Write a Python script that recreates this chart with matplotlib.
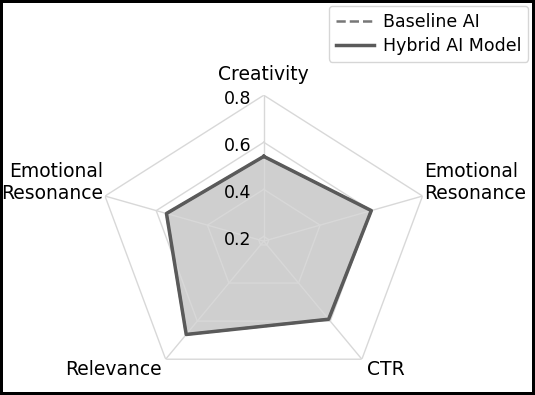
import numpy as np
import matplotlib
matplotlib.use('Agg')
import matplotlib.pyplot as plt

CATEGORIES = ['Creativity', 'Emotional\nResonance', 'CTR', 'Relevance', 'Emotional\nResonance']
BASELINE_AI = [0.54, 0.60, 0.59, 0.67, 0.56]
HYBRID_AI = [0.54, 0.60, 0.59, 0.67, 0.56]
R_TICKS = [0.2, 0.4, 0.6, 0.8]
R_LIMITS = (0.18, 0.8)

GRID_COLOR = '#d8d8d8'
LINE_COLOR = '#5a5a5a'
DASH_COLOR = '#777777'
FILL_COLOR = '#878787'
FONT_SIZE = 13.5
TICK_SIZE = 12.5
LEGEND_SIZE = 12.5

# (ha, va, dx, dy) in points, one entry per category label
LABEL_STYLE = [
    ('center', 'bottom', 0, 8),
    ('left', 'center', 1.5, 9.5),
    ('left', 'top', 4, -0.5),
    ('right', 'top', -3, -0.5),
    ('right', 'center', -1.5, 9.5),
]


def close_loop(values: list) -> list:
    """Repeat the first point so the polygon closes."""
    return list(values) + [values[0]]


def plot_radar(categories: list, baseline: list, hybrid: list) -> None:
    """Plots a radar chart with a pentagon grid."""
    fig = plt.figure(figsize=(5.35, 3.95), dpi=100)
    fig.patch.set_edgecolor('black')
    fig.patch.set_linewidth(3)

    ax = fig.add_axes([0.181, 0.020, 0.624, 0.739], projection='polar')
    ax.set_aspect('auto')
    ax.set_theta_zero_location('N')
    ax.set_theta_direction(-1)

    angles = np.linspace(0, 2 * np.pi, len(categories), endpoint=False)
    theta = close_loop(list(angles))

    ax.set_ylim(*R_LIMITS)
    ax.spines['polar'].set_visible(False)
    ax.set_xticks(angles)
    ax.set_xticklabels([])
    ax.set_yticks(R_TICKS)
    ax.set_yticklabels([])
    ax.tick_params(length=0)
    ax.yaxis.grid(False)
    ax.xaxis.grid(True, color=GRID_COLOR, linewidth=1)

    # pentagon rings, drawn over the fill like the spokes
    for r in R_TICKS:
        ax.plot(theta, [r] * len(theta), color=GRID_COLOR, linewidth=1, zorder=1.5)

    ax.fill(theta, close_loop(hybrid), color=FILL_COLOR, alpha=0.4, linewidth=0)
    ax.plot(theta, close_loop(baseline), color=DASH_COLOR, linestyle='--',
            linewidth=1.8, label='Baseline AI')
    ax.plot(theta, close_loop(hybrid), color=LINE_COLOR, linewidth=2.5,
            label='Hybrid AI Model')

    for angle, label, (ha, va, dx, dy) in zip(angles, categories, LABEL_STYLE):
        ax.annotate(label, xy=(angle, R_LIMITS[1]), xytext=(dx, dy),
                    textcoords='offset points', ha=ha, va=va,
                    fontsize=FONT_SIZE, annotation_clip=False)

    for r in R_TICKS:
        ax.annotate(f'{r:.1f}', xy=(0, r), xytext=(-9, -2.5),
                    textcoords='offset points', ha='right', va='center',
                    fontsize=TICK_SIZE)

    fig.legend(loc='upper right', bbox_to_anchor=(0.987, 0.985),
               borderaxespad=0, fontsize=LEGEND_SIZE, labelspacing=0.35,
               handlelength=2.2, handletextpad=0.5)

    fig.savefig('out.png', dpi=100, facecolor='white', edgecolor='black')


plot_radar(CATEGORIES, BASELINE_AI, HYBRID_AI)
